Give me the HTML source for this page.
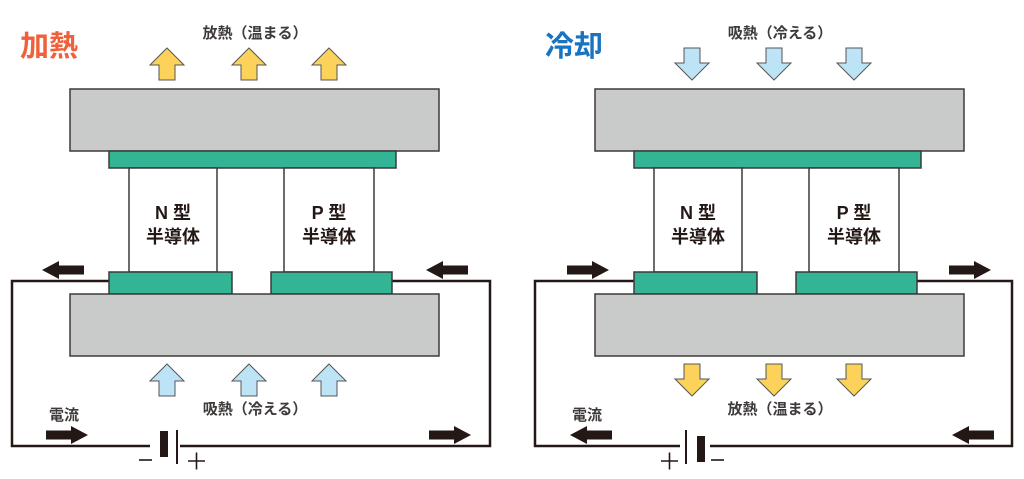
<!DOCTYPE html>
<html><head><meta charset="utf-8"><style>
html,body{margin:0;padding:0;background:#fff;width:1024px;height:479px;overflow:hidden}
svg text{font-family:"Liberation Sans","Noto Sans CJK JP",sans-serif}
</style></head><body>
<svg width="1024" height="479" viewBox="0 0 1024 479" xmlns="http://www.w3.org/2000/svg">
<defs>
<path id="up" d="M0,-16 L17,1 L8,1 L8,16 L-8,16 L-8,1 L-17,1 Z" stroke="#555" stroke-width="1"/>
<path id="dn" d="M0,16 L17,-1 L8,-1 L8,-16 L-8,-16 L-8,-1 L-17,-1 Z" stroke="#555" stroke-width="1"/>
<path id="ar" d="M-21,-4.5 L4,-4.5 L4,-9 L21,0 L4,9 L4,4.5 L-21,4.5 Z" fill="#231815"/>
<g id="dev" stroke="#3e3a39" stroke-width="1.5">
<rect x="70" y="89" width="369" height="62" fill="#c9caca"/>
<rect x="109" y="151" width="287" height="17" fill="#33b495"/>
<rect x="129" y="168" width="88" height="104" fill="#fff"/>
<rect x="284" y="168" width="90" height="104" fill="#fff"/>
<rect x="109" y="272" width="123" height="22" fill="#33b495"/>
<rect x="271" y="272" width="121" height="22" fill="#33b495"/>
<rect x="70" y="294" width="369" height="62" fill="#c9caca"/>
<text x="173" y="219" font-size="18" font-weight="bold" text-anchor="middle" fill="#231815" stroke="none">N 型</text>
<text x="173" y="243" font-size="18" font-weight="bold" text-anchor="middle" fill="#231815" stroke="none">半導体</text>
<text x="329" y="219" font-size="18" font-weight="bold" text-anchor="middle" fill="#231815" stroke="none">P 型</text>
<text x="329" y="243" font-size="18" font-weight="bold" text-anchor="middle" fill="#231815" stroke="none">半導体</text>
</g>
</defs>
<!-- LEFT -->
<text x="20" y="56" font-size="29" font-weight="bold" fill="#f0603a">加熱</text>
<text x="255" y="38" font-size="15" font-weight="bold" text-anchor="middle" fill="#3e3a39">放熱（温まる）</text>
<use href="#up" x="167" y="64" fill="#fcd25a"/>
<use href="#up" x="249" y="64" fill="#fcd25a"/>
<use href="#up" x="329" y="64" fill="#fcd25a"/>
<polyline points="109,281 12,281 12,446 490,446 490,281 392,281" fill="none" stroke="#231815" stroke-width="2.5"/>
<use href="#dev"/>
<use href="#up" x="167" y="380" fill="#bde3f7"/>
<use href="#up" x="249" y="380" fill="#bde3f7"/>
<use href="#up" x="329" y="380" fill="#bde3f7"/>
<text x="255" y="414" font-size="15" font-weight="bold" text-anchor="middle" fill="#3e3a39">吸熱（冷える）</text>
<text x="49" y="420" font-size="15" font-weight="bold" fill="#3e3a39">電流</text>
<use href="#ar" transform="translate(63,270) scale(-1,1)"/>
<use href="#ar" transform="translate(447,270) scale(-1,1)"/>
<use href="#ar" transform="translate(67,435)"/>
<use href="#ar" transform="translate(450,435)"/>
<rect x="150" y="440" width="30" height="12" fill="#fff"/>
<rect x="160" y="431" width="8" height="26" fill="#231815"/>
<rect x="176" y="430" width="2" height="34" fill="#231815"/>
<path d="M139,460 H152" stroke="#231815" stroke-width="1.6"/>
<path d="M188,461 H205 M196.5,452.5 V469.5" stroke="#231815" stroke-width="1.6"/>
<!-- RIGHT -->
<text x="545" y="56" font-size="29" font-weight="bold" fill="#1a73c0">冷却</text>
<text x="780" y="38" font-size="15" font-weight="bold" text-anchor="middle" fill="#3e3a39">吸熱（冷える）</text>
<use href="#dn" x="692" y="64" fill="#bde3f7"/>
<use href="#dn" x="774" y="64" fill="#bde3f7"/>
<use href="#dn" x="854" y="64" fill="#bde3f7"/>
<polyline points="634,281 535,281 535,446 1012,446 1012,281 917,281" fill="none" stroke="#231815" stroke-width="2.5"/>
<use href="#dev" transform="translate(525,0)"/>
<use href="#dn" x="692" y="380" fill="#fcd25a"/>
<use href="#dn" x="774" y="380" fill="#fcd25a"/>
<use href="#dn" x="854" y="380" fill="#fcd25a"/>
<text x="780" y="414" font-size="15" font-weight="bold" text-anchor="middle" fill="#3e3a39">放熱（温まる）</text>
<text x="572" y="420" font-size="15" font-weight="bold" fill="#3e3a39">電流</text>
<use href="#ar" transform="translate(588,270)"/>
<use href="#ar" transform="translate(970,270)"/>
<use href="#ar" transform="translate(591,435) scale(-1,1)"/>
<use href="#ar" transform="translate(973,435) scale(-1,1)"/>
<rect x="680" y="440" width="30" height="12" fill="#fff"/>
<rect x="685" y="430" width="2" height="34" fill="#231815"/>
<rect x="697" y="436" width="8" height="26" fill="#231815"/>
<path d="M661,461 H678 M669.5,452.5 V469.5" stroke="#231815" stroke-width="1.6"/>
<path d="M711,460 H724" stroke="#231815" stroke-width="1.6"/>
</svg>
</body></html>
